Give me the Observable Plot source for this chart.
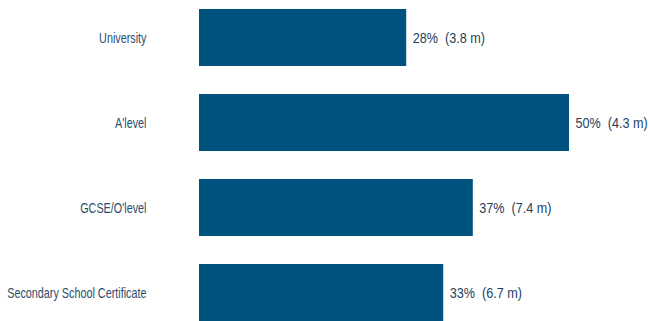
<!DOCTYPE html>
<html>
<head>
<meta charset="utf-8">
<script src="https://cdn.jsdelivr.net/npm/d3@7"></script>
<script src="https://cdn.jsdelivr.net/npm/@observablehq/plot@0.6"></script>
<style>
  html, body { margin: 0; padding: 0; background: #fff; }
  svg text { white-space: pre; }
</style>
</head>
<body>
<div id="chart"></div>
<script>
const categories = ["University", "A'level", "GCSE/O'level", "Secondary School Certificate"];
const percents = [28, 50, 37, 33];
const millions = ["3.8", "4.3", "7.4", "6.7"];

const rows = categories.map((c, i) => ({
  category: c,
  pct: percents[i],
  label: `${percents[i]}%  (${millions[i]} m)`
}));

const font = "'Liberation Sans', Arial, sans-serif";

const chart = Plot.plot({
  width: 649,
  height: 321,
  marginLeft: 199,
  marginRight: 80,
  marginTop: 9,
  marginBottom: 0,
  style: { fontFamily: font, fontSize: "14.5px", background: "#fff", overflow: "visible" },
  x: { domain: [0, 50], axis: null },
  y: { domain: categories, paddingInner: 0.33, paddingOuter: 0, label: null },
  marks: [
    Plot.barX(rows, { x: "pct", y: "category", fill: "#00537f" }),
    Plot.text(rows, {
      x: "pct", y: "category", text: "label",
      textAnchor: "start", dx: 6, fill: "#1f3e5c", fontSize: 14.5
    }),
    Plot.axisY({ tickSize: 0, tickPadding: 53, color: "#2a4d6d", fontSize: 14.5, label: null })
  ]
});

document.getElementById("chart").appendChild(chart);

// condense the text horizontally, as in the reference (narrow typeface)
function condense(selector, factor) {
  chart.querySelectorAll(selector).forEach(el => {
    const len = el.getComputedTextLength();
    el.setAttribute("textLength", (len * factor).toFixed(1));
    el.setAttribute("lengthAdjust", "spacingAndGlyphs");
  });
}
condense('g[aria-label="y-axis tick label"] text', 0.745);
condense('g[aria-label="text"] text', 0.87);
</script>
</body>
</html>
